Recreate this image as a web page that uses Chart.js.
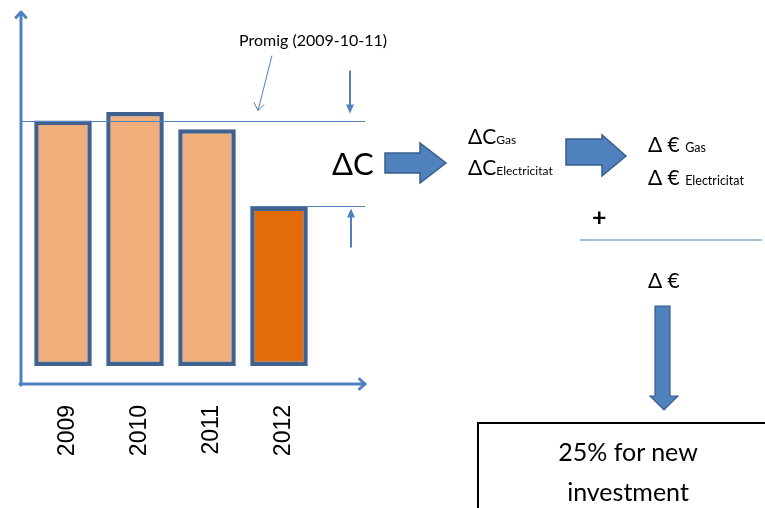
<!DOCTYPE html>
<html>
<head>
<meta charset="utf-8">
<script src="https://cdn.jsdelivr.net/npm/chart.js@4"></script>
<style>
  html, body { margin: 0; padding: 0; background: #fff; }
  .wrap { position: relative; width: 765px; height: 508px; overflow: hidden; }
  #chart { position: absolute; left: 0; top: 0; }
  svg { position: absolute; left: 0; top: 0; }
  svg text { font-family: Lato, 'Open Sans', sans-serif; fill: #000; }
</style>
</head>
<body>
<div class="wrap">
  <canvas id="chart" width="380" height="508"></canvas>
  <svg width="765" height="508" viewBox="0 0 765 508">
    <text x="239" y="46" font-size="16" fill="#222">Promig (2009-10-11)</text>
    <text x="332" y="175" font-size="31">ΔC</text>
    <polygon points="385,153 420,153 420,143 446,163 420,183 420,173 385,173" fill="#4f81bd" stroke="#385d8a" stroke-width="1.5"/>
    <text x="468" y="144" font-size="21">ΔC<tspan font-size="12">Gas</tspan></text>
    <text x="468" y="175" font-size="21">ΔC<tspan font-size="12">Electricitat</tspan></text>
    <polygon points="566,139 602,139 602,135 626,156 602,176 602,165 566,165" fill="#4f81bd" stroke="#385d8a" stroke-width="1.5"/>
    <text x="648" y="152" font-size="21">Δ € <tspan font-size="12.5">Gas</tspan></text>
    <text x="648" y="185" font-size="21">Δ € <tspan font-size="12.5">Electricitat</tspan></text>
    <text x="592" y="226" font-size="25" font-weight="bold">+</text>
    <line x1="580" y1="240" x2="762" y2="240" stroke="#4f81bd" stroke-width="1.2"/>
    <text x="648" y="288" font-size="21">Δ €</text>
    <polygon points="655,306 670,306 670,396 678,396 664,410 650,396 655,396" fill="#4f81bd" stroke="#385d8a" stroke-width="1.2"/>
    <rect x="478" y="423" width="300" height="100" fill="none" stroke="#000" stroke-width="2"/>
    <text x="628" y="461" font-size="25" text-anchor="middle" fill="#222">25% for new</text>
    <text x="628" y="501" font-size="25" text-anchor="middle" fill="#222">investment</text>
  </svg>
</div>
<script>
// consumption per year (relative units)
var YEARS = ['2009', '2010', '2011', '2012'];
var CONSUMPTION = [100, 103.5, 96.5, 65];
var FILLS = ['#f0ae7a', '#f0ae7a', '#f0ae7a', '#e36c0a'];
var AVG_YEARS = 3; // Promig over 2009-10-11
var Y_MIN = -7.3, Y_MAX = 143;

var AXIS = '#4f81bd';

function avgOf(arr, n) { var s = 0; for (var i = 0; i < n; i++) s += arr[i]; return s / n; }

function chevron(ctx, x, y, dir, size) {
  ctx.beginPath();
  if (dir === 'up') { ctx.moveTo(x - size, y + size * 1.1); ctx.lineTo(x, y); ctx.lineTo(x + size, y + size * 1.1); }
  else { ctx.moveTo(x - size * 1.1, y - size); ctx.lineTo(x, y); ctx.lineTo(x - size * 1.1, y + size); }
  ctx.stroke();
}
function tri(ctx, x, y, dir, w, h) {
  ctx.beginPath();
  ctx.moveTo(x, y);
  if (dir === 'down') { ctx.lineTo(x - w, y - h); ctx.lineTo(x + w, y - h); }
  else { ctx.lineTo(x - w, y + h); ctx.lineTo(x + w, y + h); }
  ctx.closePath(); ctx.fill();
}

var diagram = {
  id: 'diagram',
  beforeDatasetsDraw: function (chart) {
    var ctx = chart.ctx, a = chart.chartArea;
    var ax = a.left - 6, right = a.right + 50;
    ctx.save();
    // axes with open arrow heads
    ctx.strokeStyle = AXIS; ctx.lineWidth = 3; ctx.lineCap = 'round'; ctx.lineJoin = 'round';
    ctx.beginPath(); ctx.moveTo(ax, a.bottom + 1); ctx.lineTo(ax, a.top - 2); ctx.stroke();
    ctx.beginPath(); ctx.moveTo(ax - 1, a.bottom); ctx.lineTo(right, a.bottom); ctx.stroke();
    chevron(ctx, ax, a.top - 3, 'up', 5);
    chevron(ctx, right, a.bottom, 'right', 5);
    ctx.restore();
  },
  afterDatasetsDraw: function (chart) {
    var ctx = chart.ctx, a = chart.chartArea, ys = chart.scales.y;
    var ax = a.left - 6, right = a.right + 50;
    var avgPx = Math.round(ys.getPixelForValue(avgOf(CONSUMPTION, AVG_YEARS))) + 0.5;
    var last = chart.getDatasetMeta(0).data[CONSUMPTION.length - 1];
    var lastPx = Math.round(ys.getPixelForValue(CONSUMPTION[CONSUMPTION.length - 1])) + 0.5;
    ctx.save();
    ctx.strokeStyle = AXIS; ctx.fillStyle = AXIS; ctx.lineWidth = 1.2;
    // Promig line
    ctx.beginPath(); ctx.moveTo(ax, avgPx); ctx.lineTo(right, avgPx); ctx.stroke();
    // 2012 level line
    ctx.beginPath(); ctx.moveTo(last.x - last.width / 2, lastPx); ctx.lineTo(right, lastPx); ctx.stroke();
    // delta arrows
    var dx = a.right + 35;
    ctx.lineWidth = 2;
    ctx.beginPath(); ctx.moveTo(dx, avgPx - 51); ctx.lineTo(dx, avgPx - 16); ctx.stroke();
    tri(ctx, dx, avgPx - 8, 'down', 4, 9);
    ctx.beginPath(); ctx.moveTo(dx + 1, lastPx + 41); ctx.lineTo(dx + 1, lastPx + 10); ctx.stroke();
    tri(ctx, dx + 1, lastPx + 2, 'up', 4, 9);
    // pointer from the Promig label
    ctx.lineWidth = 1;
    var px0 = a.left + 245, py0 = avgPx - 66, px1 = a.left + 231, py1 = avgPx - 11;
    ctx.beginPath(); ctx.moveTo(px0, py0); ctx.lineTo(px1, py1); ctx.stroke();
    ctx.beginPath(); ctx.moveTo(px1 - 4, py1 - 8); ctx.lineTo(px1, py1); ctx.lineTo(px1 + 6, py1 - 6); ctx.stroke();
    ctx.restore();
  }
};

new Chart(document.getElementById('chart'), {
  type: 'bar',
  data: {
    labels: YEARS,
    datasets: [{
      data: CONSUMPTION,
      backgroundColor: FILLS,
      borderColor: '#41618f',
      borderWidth: 4.5,
      borderSkipped: false,
      barPercentage: 0.8,
      categoryPercentage: 1
    }]
  },
  options: {
    responsive: false,
    animation: false,
    events: [],
    layout: { padding: { left: 27, right: 65, top: 15, bottom: 0 } },
    plugins: { legend: { display: false }, tooltip: { enabled: false } },
    scales: {
      x: {
        grid: { display: false, drawTicks: false },
        border: { display: false },
        afterFit: function (s) { s.height = 124; },
        ticks: {
          minRotation: 90, maxRotation: 90, padding: 21, labelOffset: 5,
          color: '#000', font: { family: 'Liberation Sans', size: 23 }
        }
      },
      y: { display: false, min: Y_MIN, max: Y_MAX }
    }
  },
  plugins: [diagram]
});
</script>
</body>
</html>
